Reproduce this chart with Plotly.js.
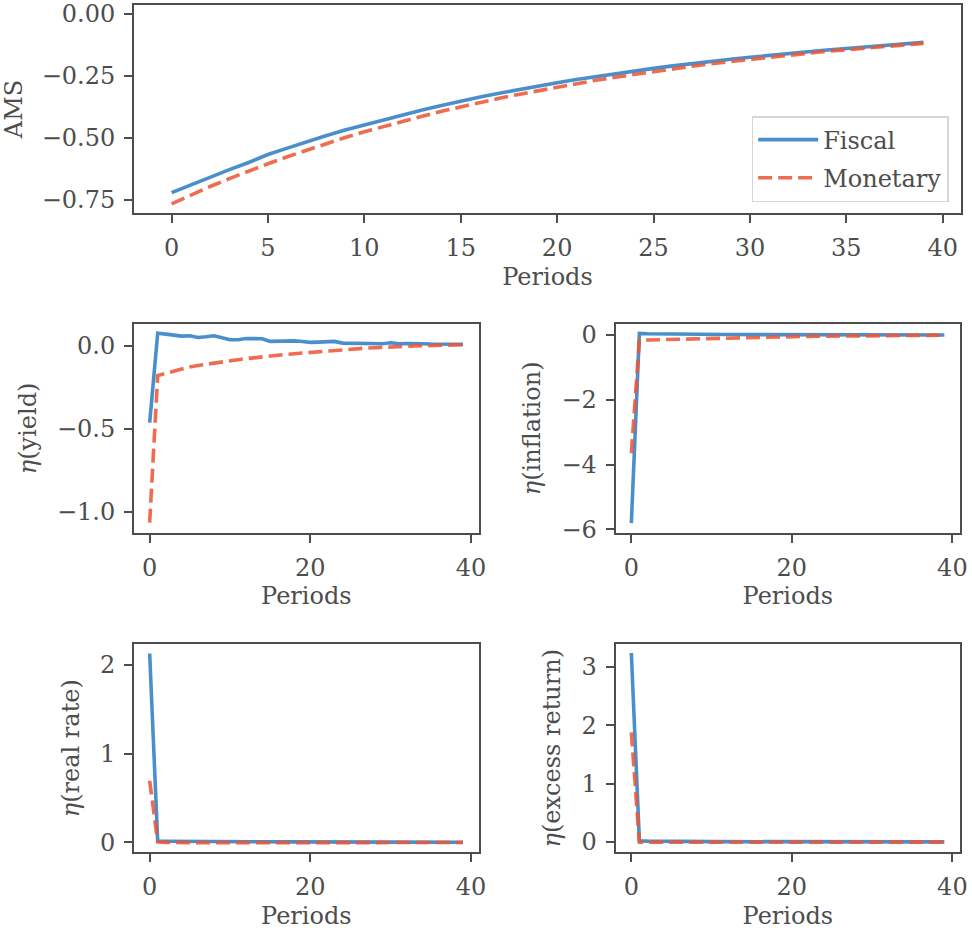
<!DOCTYPE html>
<html>
<head>
<meta charset="utf-8">
<script src="https://cdn.plot.ly/plotly-3.0.1.min.js"></script>
<style>html,body{margin:0;padding:0;background:#fff;}</style>
</head>
<body>
<div id="chart" style="width:972px;height:931px;"></div>
<script>
// ---- data ----
const periods = Array.from({length: 40}, (_, i) => i);
const seriesNames = ["Fiscal", "Monetary"];

const amsFiscal = [-0.722,-0.690,-0.659,-0.629,-0.600,-0.568,-0.542,-0.516,-0.492,-0.469,
  -0.448,-0.427,-0.407,-0.388,-0.370,-0.352,-0.336,-0.320,-0.305,-0.291,
  -0.278,-0.265,-0.253,-0.241,-0.230,-0.220,-0.210,-0.200,-0.191,-0.183,
  -0.175,-0.167,-0.160,-0.153,-0.146,-0.140,-0.134,-0.129,-0.123,-0.115];
const amsMonetary = [-0.767,-0.731,-0.697,-0.665,-0.634,-0.605,-0.577,-0.550,-0.524,-0.499,
  -0.476,-0.454,-0.433,-0.413,-0.393,-0.375,-0.357,-0.341,-0.325,-0.310,
  -0.295,-0.281,-0.268,-0.256,-0.244,-0.232,-0.221,-0.211,-0.201,-0.192,
  -0.183,-0.175,-0.166,-0.159,-0.151,-0.144,-0.138,-0.131,-0.125,-0.119];

const yieldFiscal = [-0.464,0.075,0.070,0.064,0.058,0.060,0.050,0.054,0.060,0.048,
  0.036,0.036,0.044,0.043,0.042,0.026,0.028,0.030,0.029,0.026,
  0.020,0.022,0.023,0.026,0.016,0.016,0.017,0.016,0.014,0.012,
  0.018,0.012,0.013,0.015,0.012,0.010,0.011,0.010,0.009,0.008];
const yieldMonetary = [-1.066,-0.180,-0.166,-0.152,-0.138,-0.128,-0.119,-0.111,-0.104,-0.097,
  -0.090,-0.084,-0.078,-0.072,-0.067,-0.062,-0.057,-0.052,-0.048,-0.044,
  -0.040,-0.035,-0.030,-0.027,-0.023,-0.020,-0.017,-0.014,-0.012,-0.009,
  -0.007,-0.005,-0.003,-0.001,0.000,0.002,0.003,0.004,0.005,0.006];

const inflFiscal = [-5.81,0.05,0.04,0.035,0.03,0.03,0.025,0.02,0.02,0.02,
  0.02,0.015,0.015,0.015,0.015,0.01,0.01,0.01,0.01,0.01,
  0.01,0.008,0.008,0.007,0.006,0.006,0.005,0.005,0.004,0.004,
  0.004,0.003,0.003,0.003,0.002,0.002,0.002,0.002,0.001,0.001];
const inflMonetary = [-3.65,-0.16,-0.153,-0.146,-0.139,-0.132,-0.126,-0.120,-0.114,-0.108,
  -0.102,-0.096,-0.090,-0.084,-0.078,-0.072,-0.067,-0.062,-0.057,-0.053,
  -0.049,-0.045,-0.042,-0.039,-0.036,-0.033,-0.030,-0.027,-0.024,-0.021,
  -0.019,-0.017,-0.015,-0.013,-0.011,-0.009,-0.008,-0.007,-0.006,-0.005];

const realFiscal = [2.13,0.012,0.011,0.010,0.010,0.009,0.009,0.008,0.008,0.007,
  0.007,0.007,0.006,0.006,0.006,0.005,0.005,0.005,0.005,0.004,
  0.004,0.004,0.004,0.003,0.003,0.003,0.003,0.003,0.002,0.002,
  0.002,0.002,0.002,0.002,0.002,0.001,0.001,0.001,0.001,0.001];
const realMonetary = [0.695,0.005,-0.002,-0.004,-0.005,-0.006,-0.006,-0.006,-0.006,-0.006,
  -0.006,-0.006,-0.006,-0.005,-0.005,-0.005,-0.005,-0.005,-0.005,-0.004,
  -0.004,-0.004,-0.004,-0.004,-0.004,-0.003,-0.003,-0.003,-0.003,-0.003,
  -0.003,-0.003,-0.002,-0.002,-0.002,-0.002,-0.002,-0.002,-0.002,-0.002];

const excessFiscal = [3.24,0.020,0.015,0.012,0.010,0.010,0.009,0.009,0.008,0.008,
  0.007,0.007,0.007,0.006,0.006,0.006,0.005,0.005,0.005,0.005,
  0.004,0.004,0.004,0.004,0.004,0.003,0.003,0.003,0.003,0.003,
  0.003,0.002,0.002,0.002,0.002,0.002,0.002,0.002,0.002,0.002];
const excessMonetary = [1.88,-0.005,-0.005,-0.005,-0.005,-0.005,-0.005,-0.005,-0.005,-0.005,
  -0.004,-0.004,-0.004,-0.004,-0.004,-0.004,-0.004,-0.004,-0.003,-0.003,
  -0.003,-0.003,-0.003,-0.003,-0.003,-0.003,-0.003,-0.002,-0.002,-0.002,
  -0.002,-0.002,-0.002,-0.002,-0.002,-0.002,-0.002,-0.002,-0.002,-0.002];

const yTitles = ["AMS", "<i>η</i>(yield)", "<i>η</i>(inflation)", "<i>η</i>(real rate)", "<i>η</i>(excess return)"];
const xTitle = "Periods";

// ---- styles ----
const blue = "#4a8fcc";
const red = "rgba(236,88,56,0.88)";
const txt = "#4d4d4d";
const FONT = "DejaVu Serif, serif";
const FS = 24;

const panels = [
  [amsFiscal, amsMonetary],
  [yieldFiscal, yieldMonetary],
  [inflFiscal, inflMonetary],
  [realFiscal, realMonetary],
  [excessFiscal, excessMonetary]
];

const traces = [];
panels.forEach((p, i) => {
  const ax = i === 0 ? "" : String(i + 1);
  traces.push({x: periods, y: p[0], type: "scatter", mode: "lines", name: seriesNames[0],
    xaxis: "x" + ax, yaxis: "y" + ax, showlegend: i === 0, legendgroup: "f",
    line: {color: blue, width: 3.6}});
  traces.push({x: periods, y: p[1], type: "scatter", mode: "lines", name: seriesNames[1],
    xaxis: "x" + ax, yaxis: "y" + ax, showlegend: i === 0, legendgroup: "m",
    line: {color: red, width: 3.6, dash: "14px,6px"}});
});

function xa(domain, dtick) {
  return {domain: domain, range: [-1.95, 40.95], dtick: dtick, tick0: 0,
    showline: true, mirror: true, linecolor: txt, linewidth: 2,
    ticks: "outside", ticklen: 8, tickwidth: 2, tickcolor: txt,
    ticklabelstandoff: 4,
    showgrid: false, zeroline: false,
    tickfont: {family: FONT, size: FS, color: txt},
    title: {text: xTitle, font: {family: FONT, size: FS, color: txt}, standoff: 7}};
}
function ya(domain, range, dtick, fmt, title) {
  return {domain: domain, range: range, dtick: dtick, tick0: 0, tickformat: fmt,
    showline: true, mirror: true, linecolor: txt, linewidth: 2,
    ticks: "outside", ticklen: 8, tickwidth: 2, tickcolor: txt,
    ticklabelstandoff: 4,
    showgrid: false, zeroline: false,
    tickfont: {family: FONT, size: FS, color: txt},
    title: {text: title, font: {family: FONT, size: FS, color: txt}, standoff: 14}};
}

const W = 972, H = 931;
const px = (a, b) => [a / W, b / W];
const py = (top, bottom) => [1 - bottom / H, 1 - top / H];

const layout = {
  width: W, height: H,
  margin: {l: 0, r: 0, t: 0, b: 0},
  paper_bgcolor: "#fff", plot_bgcolor: "#fff",
  font: {family: FONT, size: FS, color: txt},
  showlegend: true,
  legend: {x: 0.976, xanchor: "right", y: 1 - 202 / H, yanchor: "bottom",
    bgcolor: "rgba(255,255,255,0.85)", bordercolor: "#d6d6d6", borderwidth: 1.5,
    itemwidth: 60,
    font: {family: FONT, size: FS, color: txt}, traceorder: "grouped", tracegroupgap: 4},
  xaxis: xa(px(134, 961), 5),
  yaxis: ya(py(5, 213), [-0.804, 0.036], 0.25, ".2f", yTitles[0]),
  xaxis2: xa(px(134, 478.7), 20),
  yaxis2: ya(py(324, 532.7), [-1.127, 0.131], 0.5, ".1f", yTitles[1]),
  xaxis3: xa(px(615.7, 960), 20),
  yaxis3: ya(py(324, 532.7), [-6.105, 0.34], 2, "d", yTitles[2]),
  xaxis4: xa(px(134, 478.7), 20),
  yaxis4: ya(py(644, 852.3), [-0.113, 2.237], 1, "d", yTitles[3]),
  xaxis5: xa(px(615.7, 960), 20),
  yaxis5: ya(py(644, 852.3), [-0.176, 3.394], 1, "d", yTitles[4])
};
layout.xaxis.anchor = "y"; layout.yaxis.anchor = "x";
layout.xaxis2.anchor = "y2"; layout.yaxis2.anchor = "x2";
layout.xaxis3.anchor = "y3"; layout.yaxis3.anchor = "x3";
layout.xaxis4.anchor = "y4"; layout.yaxis4.anchor = "x4";
layout.xaxis5.anchor = "y5"; layout.yaxis5.anchor = "x5";

Plotly.newPlot("chart", traces, layout, {staticPlot: true, displayModeBar: false});
</script>
</body>
</html>
